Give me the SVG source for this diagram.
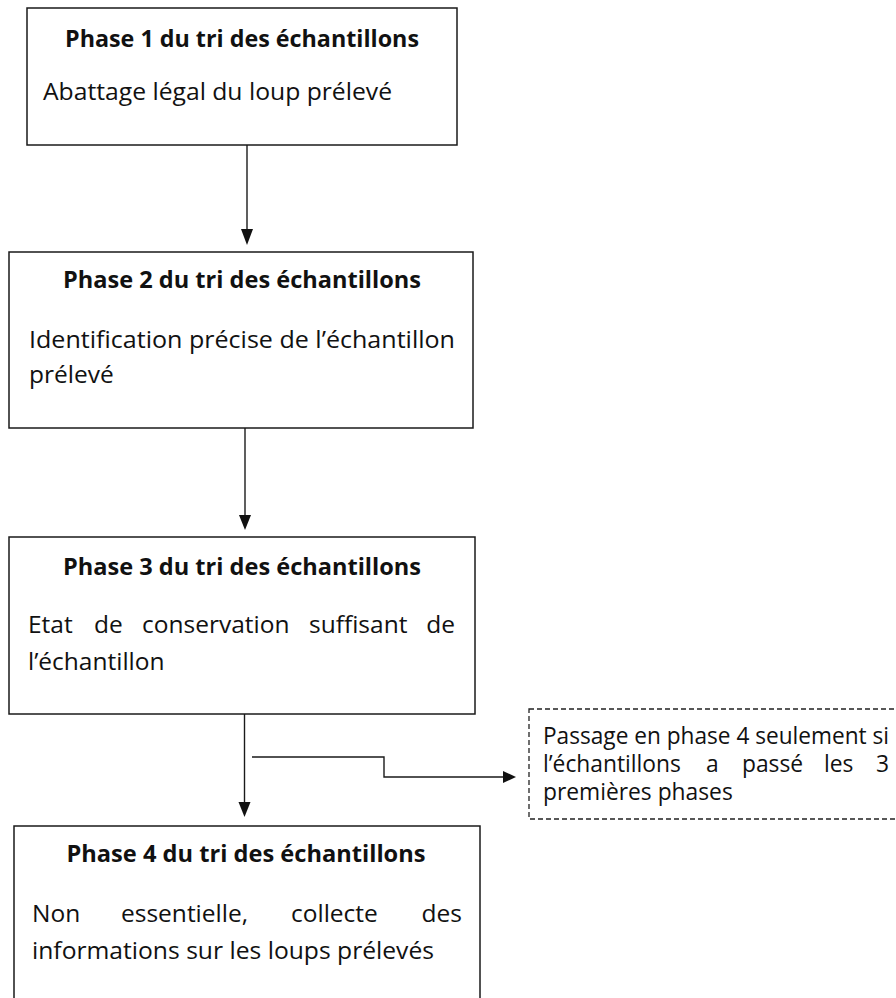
<svg xmlns="http://www.w3.org/2000/svg" width="896" height="998" viewBox="0 0 896 998">
<style>
.box{fill:#fff;stroke:#1a1a1a;stroke-width:1.5}
.dbox{fill:#fff;stroke:#222;stroke-width:1.3;stroke-dasharray:5 3}
.title{font-family:"Open Sans","Liberation Sans",sans-serif;font-weight:bold;font-size:23.6px;fill:#111;text-anchor:middle}
.body{font-family:"Open Sans","Liberation Sans",sans-serif;font-size:24.5px;fill:#111}
.note{font-family:"Open Sans","Liberation Sans",sans-serif;font-size:22.8px;fill:#111}
.end{text-anchor:end}
.conn{fill:none;stroke:#1a1a1a;stroke-width:1.4}
.head{fill:#111}
</style>
<rect width="896" height="998" fill="#fff"/>

<g id="phase1">
<rect class="box" x="27" y="8" width="430" height="137"/>
<text class="title" x="242" y="47" textLength="354" lengthAdjust="spacingAndGlyphs">Phase 1 du tri des échantillons</text>
<text class="body" x="43" y="100" textLength="349" lengthAdjust="spacingAndGlyphs">Abattage légal du loup prélevé</text>
</g>

<g id="phase2">
<rect class="box" x="9" y="252" width="464" height="176"/>
<text class="title" x="242" y="288" textLength="358" lengthAdjust="spacingAndGlyphs">Phase 2 du tri des échantillons</text>
<text class="body" x="29" y="348" textLength="426" lengthAdjust="spacingAndGlyphs">Identification précise de l’échantillon</text>
<text class="body" x="29" y="383">prélevé</text>
</g>

<g id="phase3">
<rect class="box" x="9" y="537" width="466" height="177"/>
<text class="title" x="242" y="575" textLength="358" lengthAdjust="spacingAndGlyphs">Phase 3 du tri des échantillons</text>
<text class="body" y="633"><tspan x="28">Etat</tspan><tspan x="94">de</tspan><tspan x="142">conservation</tspan><tspan x="309">suffisant</tspan></text>
<text class="body end" x="455" y="633">de</text>
<text class="body" x="28" y="670">l’échantillon</text>
</g>

<g id="phase4">
<rect class="box" x="14" y="826" width="466" height="200"/>
<text class="title" x="246" y="862" textLength="359" lengthAdjust="spacingAndGlyphs">Phase 4 du tri des échantillons</text>
<text class="body" y="922"><tspan x="32">Non</tspan><tspan x="121">essentielle,</tspan><tspan x="291">collecte</tspan></text>
<text class="body end" x="462" y="922">des</text>
<text class="body" x="32" y="959" textLength="402" lengthAdjust="spacingAndGlyphs">informations sur les loups prélevés</text>
</g>

<g id="note">
<rect class="dbox" x="529" y="709" width="380" height="110"/>
<text class="note" x="543" y="744" textLength="346" lengthAdjust="spacingAndGlyphs">Passage en phase 4 seulement si</text>
<text class="note" y="772"><tspan x="543">l’échantillons</tspan><tspan x="706">a</tspan><tspan x="742">passé</tspan><tspan x="824">les</tspan></text>
<text class="note end" x="889" y="772">3</text>
<text class="note" x="543" y="800">premières phases</text>
</g>

<g id="connectors">
<line class="conn" x1="247" y1="145" x2="247" y2="230"/>
<polygon class="head" points="241,229 253,229 247,245"/>
<line class="conn" x1="245" y1="428" x2="245" y2="516"/>
<polygon class="head" points="239,515 251,515 245,530"/>
<line class="conn" x1="244.5" y1="714" x2="244.5" y2="803"/>
<polygon class="head" points="238.5,802 250.5,802 244.5,817"/>
<polyline class="conn" points="252,757 384,757 384,777 504,777"/>
<polygon class="head" points="503,771 516,777 503,783"/>
</g>
</svg>
